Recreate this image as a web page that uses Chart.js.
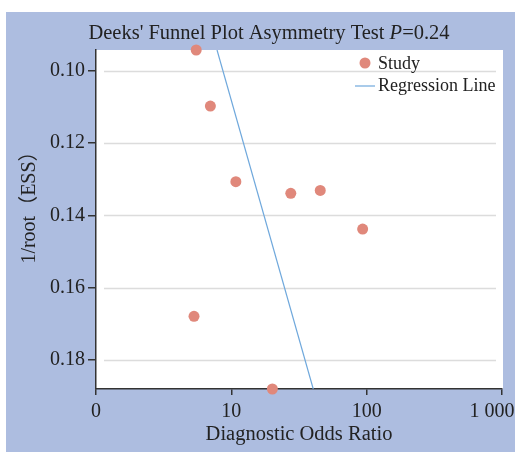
<!DOCTYPE html>
<html>
<head>
<meta charset="utf-8">
<script src="https://cdn.jsdelivr.net/npm/chart.js@4"></script>
<style>
  html, body { margin: 0; padding: 0; background: #fff; }
  #wrap { position: absolute; left: 6px; top: 12px; width: 509px; height: 440px; }
</style>
</head>
<body>
<div id="wrap"><canvas id="deeksChart" width="509" height="440"></canvas></div>
<script>
// datos
const studyDOR = [5.5, 7.0, 10.8, 27.5, 45.4, 93.4, 5.3, 20.1];
const studyInvRootESS = [0.0943, 0.1098, 0.1307, 0.1339, 0.1331, 0.1438, 0.1679, 0.1880];
const regDOR = [7.84, 40.3];
const regInvRootESS = [0.0943, 0.1880];
const xTickValues = [1, 10, 100, 1000];
const xTickLabels = ['0', '10', '100', '1 000\u2003'];
const yTickValues = [0.10, 0.12, 0.14, 0.16, 0.18];

const serif = "'Liberation Serif', 'Times New Roman', 'Noto Sans CJK SC', serif";
const textColor = '#222';
const axisColor = '#333';

const fondo = {
    id: 'fondo',
    beforeDraw(chart) {
        const { ctx, chartArea: a } = chart;
        ctx.save();
        ctx.fillStyle = '#adbde0';
        ctx.fillRect(0, 0, chart.width, chart.height);
        ctx.fillStyle = '#fff';
        ctx.fillRect(a.left, a.top, a.right - a.left + 1, a.bottom - a.top);
        ctx.restore();
    }
};

// lineas de la grilla horizontal, un poco separadas del eje
const grilla = {
    id: 'grilla',
    beforeDatasetsDraw(chart) {
        const { ctx, chartArea: a, scales: { y } } = chart;
        ctx.save();
        ctx.strokeStyle = '#dcdcdc';
        ctx.lineWidth = 1.5;
        y.ticks.forEach(t => {
            const py = Math.round(y.getPixelForValue(t.value)) + 0.5;
            ctx.beginPath();
            ctx.moveTo(a.left + 8, py);
            ctx.lineTo(a.right - 6, py);
            ctx.stroke();
        });
        ctx.restore();
    }
};

const titulo = {
    id: 'titulo',
    afterDraw(chart) {
        const { ctx } = chart;
        const parts = [
            ["Deeks' Funnel Plot Asymmetry Test ", 'normal'],
            ['P', 'italic'],
            ['=0.24', 'normal']
        ];
        ctx.save();
        ctx.fillStyle = textColor;
        ctx.textBaseline = 'middle';
        let total = 0;
        parts.forEach(([t, s]) => { ctx.font = `${s} 20.5px ${serif}`; total += ctx.measureText(t).width; });
        let x = 263 - total / 2;
        parts.forEach(([t, s]) => {
            ctx.font = `${s} 20.5px ${serif}`;
            ctx.fillText(t, x, 22);
            x += ctx.measureText(t).width;
        });
        ctx.restore();
    }
};

const leyenda = {
    id: 'leyenda',
    afterDraw(chart) {
        const { ctx, chartArea: a } = chart;
        const ds = chart.data.datasets;
        const x0 = a.right - 147;
        ctx.save();
        ctx.font = `18px ${serif}`;
        ctx.fillStyle = textColor;
        ctx.textBaseline = 'middle';
        // Study
        ctx.beginPath();
        ctx.fillStyle = ds[0].backgroundColor;
        ctx.arc(x0 + 10, a.top + 13, 5.5, 0, Math.PI * 2);
        ctx.fill();
        ctx.fillStyle = textColor;
        ctx.fillText(ds[0].label, x0 + 23, a.top + 14);
        // Regression Line
        ctx.strokeStyle = ds[1].borderColor;
        ctx.lineWidth = 1.2;
        ctx.beginPath();
        ctx.moveTo(x0, a.top + 36);
        ctx.lineTo(x0 + 20, a.top + 36);
        ctx.stroke();
        ctx.fillText(ds[1].label, x0 + 23, a.top + 36);
        ctx.restore();
    }
};

const ctx = document.getElementById('deeksChart').getContext('2d');
const deeksChart = new Chart(ctx, {
    type: 'scatter',
    data: {
        datasets: [{
            label: 'Study',
            data: studyDOR.map((x, i) => ({ x, y: studyInvRootESS[i] })),
            backgroundColor: '#e0887b',
            borderWidth: 0,
            pointRadius: 5.5,
            pointHoverRadius: 5.5,
            clip: false
        }, {
            label: 'Regression Line',
            data: regDOR.map((x, i) => ({ x, y: regInvRootESS[i] })),
            showLine: true,
            borderColor: '#6fa8dc',
            borderWidth: 1.2,
            pointRadius: 0,
            fill: false
        }]
    },
    options: {
        responsive: false,
        animation: false,
        layout: { padding: { top: 38, right: 13, left: 0, bottom: 0 } },
        plugins: {
            legend: { display: false },
            title: { display: false },
            tooltip: { enabled: false }
        },
        scales: {
            x: {
                type: 'logarithmic',
                min: 1,
                max: 1000,
                border: { color: axisColor, width: 1.5 },
                grid: { drawOnChartArea: false, color: axisColor, lineWidth: 1.5, tickLength: 6 },
                afterBuildTicks: s => { s.ticks = xTickValues.map(v => ({ value: v })); },
                afterFit: s => { s.height = 63; s.paddingRight = 0; s.paddingLeft = 0; },
                ticks: {
                    autoSkip: false,
                    maxRotation: 0,
                    padding: 5,
                    color: textColor,
                    font: { family: serif, size: 20 },
                    callback: v => xTickLabels[xTickValues.indexOf(v)]
                },
                title: {
                    display: true,
                    text: 'Diagnostic Odds Ratio',
                    color: textColor,
                    font: { family: serif, size: 20.5 },
                    padding: { top: 0, bottom: 5 }
                }
            },
            y: {
                reverse: true,
                min: 0.0943,
                max: 0.188,
                border: { color: axisColor, width: 1.5 },
                grid: { drawOnChartArea: false, color: axisColor, lineWidth: 1.5, tickLength: 8 },
                afterBuildTicks: s => { s.ticks = yTickValues.map(v => ({ value: v })); },
                afterFit: s => { s.width = 90; },
                ticks: {
                    padding: 3,
                    color: textColor,
                    font: { family: serif, size: 20 },
                    callback: v => v.toFixed(2)
                },
                title: {
                    display: true,
                    text: '\u2003\u2002\u20091/root（ESS）',
                    color: textColor,
                    font: { family: serif, size: 20 },
                    padding: { top: 12, bottom: 0 }
                }
            }
        }
    },
    plugins: [fondo, grilla, titulo, leyenda]
});
</script>
</body>
</html>
